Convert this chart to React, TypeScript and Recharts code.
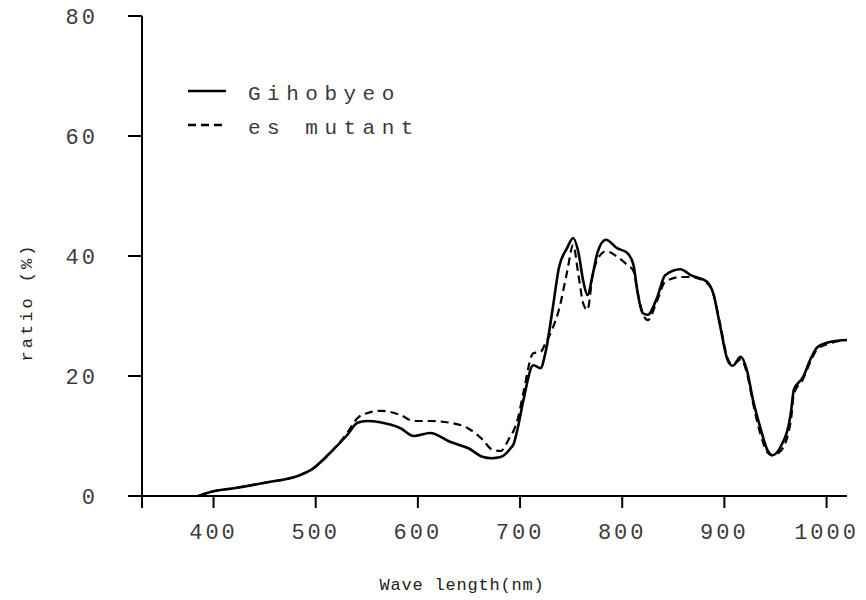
import React from 'react'
import { LineChart, Line, XAxis, YAxis, Label } from 'recharts'

// wavelength (nm) sample points
const wavelengths = [
  385, 400, 420, 450, 485, 495, 517, 530, 541, 550, 563, 583, 596, 612, 632, 649,
  664, 672, 681, 690, 694, 698, 703, 713, 720, 725, 732, 738, 746, 752, 757, 762,
  766, 771, 776, 784, 795, 805, 811, 815, 820, 825, 834, 842, 857, 867, 883, 889,
  896, 903, 908, 916, 922, 928, 935, 942, 947, 955, 965, 968, 977, 984, 991, 1004, 1020
]

// ratio (%) — Gihobyeo (solid)
const gihobyeo = [
  0, 0.8, 1.3, 2.2, 3.5, 4.3, 7.7, 10, 12.2, 12.5, 12.3, 11.3, 10, 10.5, 9, 8,
  6.5, 6.3, 6.5, 7.8, 8.8, 11.5, 15.7, 21.8, 21.3, 24, 31.3, 38, 41.3, 43, 40.7, 35.7,
  33.5, 36.8, 40.7, 42.7, 41.3, 40.5, 38.5, 34, 30.5, 30.2, 33, 36.8, 37.8, 36.8, 35.7, 33.8,
  28.2, 22.7, 21.7, 23.2, 21, 16, 11.5, 7.7, 6.8, 8.2, 13.8, 17.7, 19.8, 22.7, 24.8, 25.7, 26
]

// ratio (%) — es mutant (dashed)
const esMutant = [
  0, 0.8, 1.3, 2.2, 3.5, 4.3, 7.7, 10.3, 13, 13.8, 14.2, 13.5, 12.5, 12.5, 12.2, 11.3,
  9.3, 7.8, 7.5, 9.8, 11, 13, 17, 23.8, 24, 25.5, 28, 31, 37.3, 41.8, 37, 32,
  31, 36.8, 39.5, 40.8, 39.9, 38.5, 37.5, 34, 30.5, 29.3, 32.5, 35.7, 36.5, 36.5, 35.5, 33.8,
  28.5, 23, 21.8, 22.8, 20.5, 15.5, 10.5, 7.3, 6.8, 7.5, 12.5, 17, 19.5, 22.3, 24.5, 25.5, 26
]

const xTicks = [330, 400, 500, 600, 700, 800, 900, 1000]
const yTicks = [0, 20, 40, 60, 80]

const data = wavelengths.map((w, i) => ({ w, a: gihobyeo[i], b: esMutant[i] }))

const font = '"Liberation Mono", "DejaVu Sans Mono", monospace'
const textColor = '#3a3a3a'

// legend drawn as an overlay so it does not take space from the plot
const LegendBox = () => (
  <div
    style={{
      position: 'absolute', left: 188, top: 77,
      fontFamily: font, fontSize: 21, letterSpacing: 6.5, color: textColor
    }}
  >
    {[
      { name: 'Gihobyeo', dash: undefined },
      { name: 'es mutant', dash: '8 5' }
    ].map((it) => (
      <div key={it.name} style={{ display: 'flex', alignItems: 'center', height: 34 }}>
        <svg width={38} height={10} style={{ marginRight: 22, marginTop: -6 }}>
          <line x1={0} y1={5} x2={38} y2={5} stroke="#000" strokeWidth={2.5} strokeDasharray={it.dash} />
        </svg>
        <span>{it.name}</span>
      </div>
    ))}
  </div>
)

export default function App() {
  return (
    <div style={{ position: 'absolute', left: 0, top: 0, width: 866, height: 600, background: '#fff' }}>
      <LineChart
        width={866}
        height={600}
        data={data}
        margin={{ top: 16, right: 19, left: 0, bottom: 0 }}
      >
        <XAxis
          dataKey="w"
          type="number"
          domain={[330, 1020]}
          ticks={xTicks}
          tickFormatter={(v) => (v === 330 ? '' : String(v))}
          height={104}
          tickSize={12}
          tickMargin={15}
          stroke="#000"
          strokeWidth={2}
          tick={{ fill: textColor, fontFamily: font, fontSize: 22, letterSpacing: 3 }}
          allowDataOverflow
        >
          <Label
            content={() => (
              <text x={462} y={590} textAnchor="middle" fontFamily={font} fontSize={17}
                letterSpacing={0.8} fill="#222">
                Wave length(nm)
              </text>
            )}
          />
        </XAxis>
        <YAxis
          type="number"
          domain={[0, 80]}
          ticks={yTicks}
          width={142}
          tickSize={14}
          tickMargin={30}
          stroke="#000"
          strokeWidth={2}
          tick={{ fill: textColor, fontFamily: font, fontSize: 22, letterSpacing: 3 }}
        >
          <Label
            content={() => (
              <text x={32} y={302} textAnchor="middle" fontFamily={font} fontSize={17}
                letterSpacing={3} fill="#222" transform="rotate(-90 32 302)">
                ratio (%)
              </text>
            )}
          />
        </YAxis>
        <Line
          type="monotone"
          dataKey="b"
          name="es mutant"
          stroke="#000"
          strokeWidth={2.2}
          strokeDasharray="8 5"
          dot={false}
          isAnimationActive={false}
        />
        <Line
          type="monotone"
          dataKey="a"
          name="Gihobyeo"
          stroke="#000"
          strokeWidth={2.6}
          dot={false}
          isAnimationActive={false}
        />
      </LineChart>
      <LegendBox />
    </div>
  )
}
